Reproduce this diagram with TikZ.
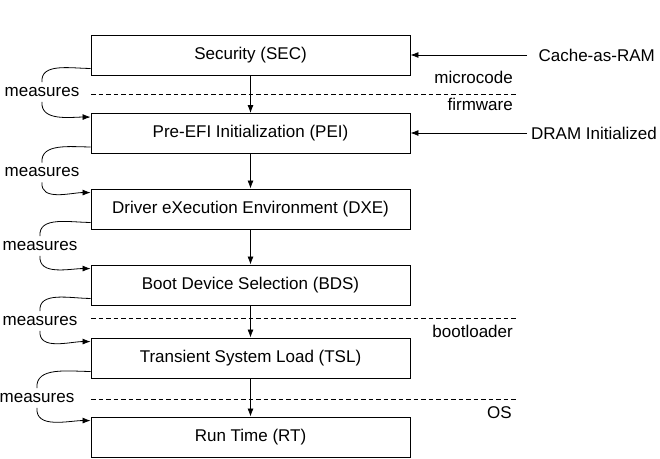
\documentclass[tikz,border=0pt]{standalone}
\usepackage{fontspec}
\setmainfont{Liberation Sans}
\usetikzlibrary{arrows.meta}

\begin{document}
\begin{tikzpicture}[
            x=1pt, y=-1pt,
            every node/.style={font=\fontsize{17}{20}\selectfont},
            phase/.style={draw, line width=0.9pt, minimum width=319pt, minimum height=40pt, inner sep=0pt},
            plain/.style={inner sep=2pt},
            tag/.style={inner sep=5pt},
            flow/.style={line width=0.8pt, -{Latex[length=8pt,width=6pt]}},
            border/.style={line width=0.8pt, dash pattern=on 4.5pt off 3pt},
            ]
            \useasboundingbox (0,0) rectangle (660,458);
            % boot phases
            \node[phase] (sec) at (250.5, 55) {Security (SEC)};
            \node[phase] (pei) at (250.5, 133.5) {Pre-EFI Initialization (PEI)};
            \node[phase] (dxe) at (250.5, 209) {Driver eXecution Environment (DXE)};
            \node[phase] (bds) at (250.5, 285) {Boot Device Selection (BDS)};
            \node[phase] (tsl) at (250.5, 358) {Transient System Load (TSL)};
            \node[phase] (rt) at (250.5, 437) {Run Time (RT)};
            \foreach \a/\b in {sec/pei, pei/dxe, dxe/bds, bds/tsl, tsl/rt}
                \draw[flow] (\a) -- (\b);
            % measures
            \foreach \a/\b/\x/\y in {sec/pei/42/92, pei/dxe/42/172.5, dxe/bds/40/246, bds/tsl/40/321, tsl/rt/37/398} {
                \node[tag] (m\a) at (\x, \y) {measures};
                \draw[line width=0.8pt] ([yshift=7pt]\a.south west) to[out=180, in=95] (m\a.north);
                \draw[flow] (m\a.south) to[out=-95, in=180] ([yshift=-4pt]\b.north west);
            }
            % privilege borders
            \draw[border] (91, 94) -- (518, 94);
            \draw[border] (91, 318) -- (518, 318);
            \draw[border] (91, 399) -- (518, 399);
            \node[plain, anchor=east] (ucode) at (515, 77) {microcode};
            \node[plain, anchor=east] (fw) at (515, 104) {firmware};
            \node[plain, anchor=east] (boot) at (515, 331) {bootloader};
            \node[plain, anchor=east] (os) at (514, 413) {OS};
            % memory events
            \node[plain, anchor=east] (car) at (657, 55) {Cache-as-RAM};
            \node[plain, anchor=east] (dram) at (659, 133) {DRAM Initialized};
            \coordinate (carin) at (527, 55);
            \coordinate (dramin) at (527, 133);
            \draw[flow] (carin) -- (carin -| sec.east);
            \draw[flow] (dramin) -- (dramin -| pei.east);
        \end{tikzpicture}
\end{document}
